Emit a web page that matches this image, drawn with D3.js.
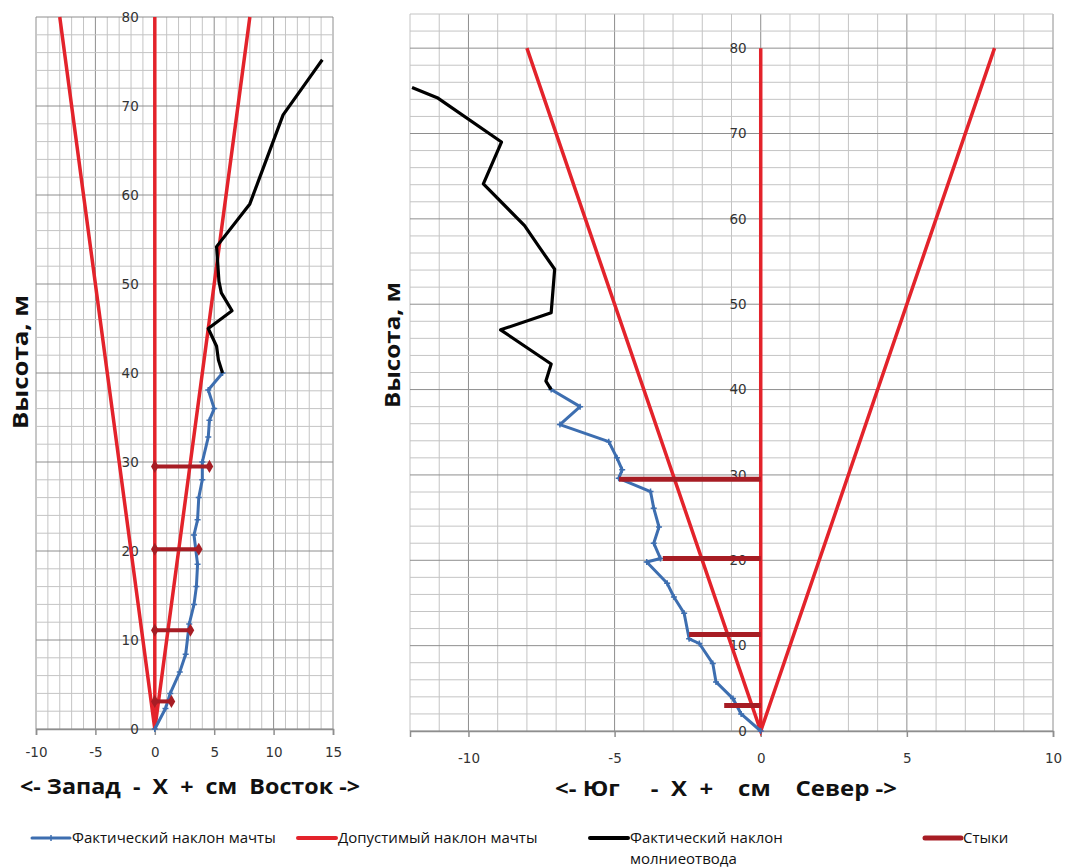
<!DOCTYPE html>
<html><head><meta charset="utf-8">
<script src="https://cdn.jsdelivr.net/npm/d3@7"></script>
<style>
body{margin:0;background:#fff;}
svg text{white-space:pre;}
</style></head>
<body>
<svg id="c" width="1065" height="868"></svg>
<script>
// ---- Data (X axis: East-West, left chart) ----
const westEastMastX = [0, 0.9, 1.3, 2.1, 2.6, 2.9, 3.3, 3.5, 3.6, 3.3, 3.6, 3.7, 4.0, 4.0, 4.5, 4.6, 5.0, 4.5, 5.7];
const westEastMastH = [0, 2.3, 4.0, 6.4, 8.4, 11.8, 14.0, 16.0, 18.5, 21.8, 23.5, 26.0, 28.0, 30.0, 32.8, 34.7, 36.0, 38.1, 40.0];
const westEastRodX = [5.7, 5.35, 5.2, 4.5, 6.5, 5.6, 5.4, 5.2, 8.0, 8.7, 10.8, 13.3, 14.1];
const westEastRodH = [40, 41.5, 43, 45, 47, 49, 50.3, 54.2, 59, 61.5, 69, 73.7, 75.2];
const westEastJointH = [29.5, 20.2, 11.1, 3.1];
const westEastJointX = [4.6, 3.7, 3.0, 1.4];

// ---- Data (Y axis: South-North, right chart) ----
const southNorthMastX = [0, -0.67, -0.95, -1.53, -1.64, -2.1, -2.45, -2.62, -2.97, -3.2, -3.9, -3.43, -3.66, -3.48, -3.66, -3.77, -4.86, -4.74, -4.92, -5.2, -6.87, -6.18, -7.17];
const southNorthMastH = [0, 2.0, 3.8, 5.75, 7.9, 10.25, 10.8, 13.8, 15.7, 17.3, 19.8, 20.2, 22.0, 23.9, 26.1, 28.05, 29.6, 30.6, 32.0, 33.9, 35.9, 38.0, 40.0];
const southNorthRodX = [-7.17, -7.35, -7.17, -8.9, -7.17, -7.05, -7.6, -8.08, -9.49, -8.87, -11.07, -11.93];
const southNorthRodH = [40, 41, 43, 47, 49, 54.1, 56.8, 59.2, 64.1, 69, 74.2, 75.4];
const southNorthJointH = [29.5, 20.2, 11.3, 3.0];
const southNorthJointX = [-4.85, -3.35, -2.45, -1.25];

// Permissible tilt envelope (cm at height m)
const permittedX = [-8, 0, 8];
const permittedH = [80, 0, 80];
const axisLineH = [0, 80];

const leftXTicks = [-10, -5, 0, 5, 10, 15];
const rightXTicks = [-10, -5, 0, 5, 10];
const yTicks = [0, 10, 20, 30, 40, 50, 60, 70, 80];

const legendLabels = ["Фактический наклон мачты", "Допустимый наклон мачты", "Фактический наклон", "Стыки"];
const legendLabel2 = "молниеотвода";

const C = {blue:"#3d6eb0", red:"#e3232b", black:"#000", joint:"#a71d24", minor:"#c4c4c4", major:"#8e8e8e"};

const svg = d3.select("#c");

function drawChart(o){
  const x = d3.scaleLinear().domain(o.xDomain).range(o.xRange);
  const y = d3.scaleLinear().domain(o.yDomain).range(o.yRange);
  const g = svg.append("g");
  const xm = d3.range(o.xDomain[0], o.xDomain[1]+0.001, 1);
  const ym = d3.range(o.yDomain[0], o.yDomain[1]+0.001, 2);
  g.selectAll(".vx").data(xm).join("line")
    .attr("x1", d=>x(d)).attr("x2", d=>x(d)).attr("y1", y(o.yDomain[0])).attr("y2", y(o.yDomain[1]))
    .attr("stroke", d=> (d%5===0)? C.major : C.minor).attr("stroke-width", 1);
  g.selectAll(".hy").data(ym).join("line")
    .attr("y1", d=>y(d)).attr("y2", d=>y(d)).attr("x1", x(o.xDomain[0])).attr("x2", x(o.xDomain[1]))
    .attr("stroke", d=> (d%10===0)? C.major : C.minor).attr("stroke-width", 1);
  const xa = g.append("g").attr("transform", `translate(0,${y(0)})`)
    .call(d3.axisBottom(x).tickValues(o.xTicks).tickSize(6).tickPadding(o.xPad).tickFormat(d=>String(d)));
  xa.select(".domain").attr("stroke", C.major).attr("stroke-width", 1.5);
  xa.selectAll(".tick line").attr("stroke", C.major).attr("stroke-width", 1.5);
  xa.selectAll("text").attr("font-family","DejaVu Sans").attr("font-size", 13.5).attr("fill","#333");
  g.selectAll(".yl").data(yTicks).join("text")
    .attr("x", x(0) - o.yLabelGap).attr("y", d=>y(d)).attr("dy","0.35em")
    .attr("text-anchor","end").attr("font-family","DejaVu Sans").attr("font-size",13.5).attr("fill","#333")
    .text(d=>d);
  const line = d3.line().x(d=>x(d[0])).y(d=>y(d[1]));
  g.append("path").attr("d", line(permittedX.map((v,i)=>[v, permittedH[i]])))
    .attr("fill","none").attr("stroke",C.red).attr("stroke-width",3.5).attr("stroke-linejoin","miter");
  g.append("path").attr("d", line(axisLineH.map(h=>[0,h])))
    .attr("fill","none").attr("stroke",C.red).attr("stroke-width",3.5);
  const mast = o.mastX.map((v,i)=>[v, o.mastH[i]]);
  g.append("path").attr("d", line(mast)).attr("fill","none").attr("stroke",C.blue).attr("stroke-width",3).attr("stroke-linejoin","round");
  g.selectAll(".mk").data(mast).join("path")
    .attr("d", d=>`M${x(d[0])-3},${y(d[1])}h6M${x(d[0])},${y(d[1])-3}v6`)
    .attr("stroke",C.blue).attr("stroke-width",1.5);
  g.append("path").attr("d", line(o.rodX.map((v,i)=>[v, o.rodH[i]])))
    .attr("fill","none").attr("stroke",C.black).attr("stroke-width",3.2).attr("stroke-linejoin","round");
  o.jointH.forEach((h,i)=>{
    g.append("path").attr("d", line([[0,h],[o.jointX[i],h]]))
      .attr("stroke",C.joint).attr("stroke-width",o.jointW).attr("fill","none");
    if(o.jointMarkers){
      [0, o.jointX[i]].forEach(v=>{
        g.append("path").attr("d", d3.symbol(d3.symbolDiamond, 50)())
          .attr("transform",`translate(${x(v)},${y(h)})`).attr("fill",C.joint);
      });
    }
  });
  svg.append("text").attr("transform",`translate(${o.yTitle[0]},${o.yTitle[1]}) rotate(-90)`)
    .attr("text-anchor","middle").attr("font-family","Open Sans").attr("font-weight","bold").attr("font-size",22)
    .attr("fill","#111").attr("textLength",o.yTitleLen).attr("lengthAdjust","spacingAndGlyphs").text("Высота, м");
  svg.append("text").attr("x",o.xTitle[0]).attr("y",o.xTitle[1])
    .attr("font-family","Open Sans").attr("font-weight","bold").attr("font-size",21)
    .attr("fill","#111").attr("textLength",o.xTitleLen).attr("lengthAdjust","spacingAndGlyphs").text(o.xTitleText);
}

drawChart({xDomain:[-10,15], xRange:[36,333], yDomain:[0,80], yRange:[729,17], xTicks:leftXTicks, xPad:12,
  yLabelGap:16, mastX:westEastMastX, mastH:westEastMastH, rodX:westEastRodX, rodH:westEastRodH,
  jointH:westEastJointH, jointX:westEastJointX, jointW:4, jointMarkers:true,
  yTitle:[28,362], yTitleLen:134, xTitle:[20,794], xTitleLen:340, xTitleText:"<- Запад  -  X  +  см  Восток ->"});

drawChart({xDomain:[-12,10], xRange:[410,1053], yDomain:[0,84], yRange:[731,14], xTicks:rightXTicks, xPad:16,
  yLabelGap:14, mastX:southNorthMastX, mastH:southNorthMastH, rodX:southNorthRodX, rodH:southNorthRodH,
  jointH:southNorthJointH, jointX:southNorthJointX, jointW:5, jointMarkers:false,
  yTitle:[400,345], yTitleLen:126, xTitle:[555,796], xTitleLen:342, xTitleText:"<- Юг     -  X  +    см    Север ->"});

// legend
const lg = svg.append("g").attr("font-family","Open Sans").attr("font-size",15).attr("fill","#111");
const legendItems = [
  {x0:32, x1:70, tx:72, color:C.blue, w:3, marker:true},
  {x0:298, x1:336, tx:338, color:C.red, w:4},
  {x0:590, x1:628, tx:630, color:C.black, w:4},
  {x0:925, x1:961, tx:963, color:C.joint, w:5}
];
legendItems.forEach((it,i)=>{
  lg.append("line").attr("x1",it.x0).attr("x2",it.x1).attr("y1",838).attr("y2",838)
    .attr("stroke",it.color).attr("stroke-width",it.w).attr("stroke-linecap","round");
  if(it.marker){
    lg.append("path").attr("d",`M51,835v6`).attr("stroke",it.color).attr("stroke-width",1.5);
  }
  lg.append("text").attr("x",it.tx).attr("y",838).attr("dy","0.35em").text(legendLabels[i]);
});
lg.append("text").attr("x",630).attr("y",859).attr("dy","0.35em").text(legendLabel2);
</script>
</body></html>
